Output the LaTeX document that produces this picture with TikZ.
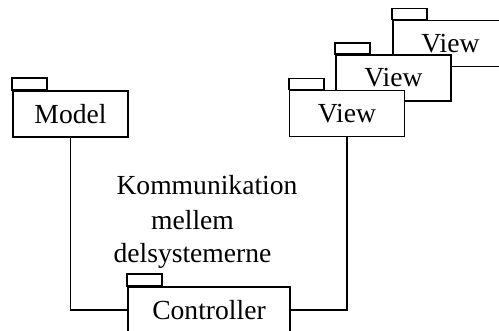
\documentclass[tikz,border=0pt]{standalone}
\usepackage{fontspec}
\setmainfont{Liberation Serif}
\begin{document}
\begin{tikzpicture}[x=1pt,y=-1pt,
  pkg/.style={draw, fill=white, line width=1.8pt, minimum width=115pt,
    minimum height=46pt, inner sep=0pt, font=\fontsize{27.6}{34}\selectfont},
  tab/.style={draw, fill=white, line width=1.8pt},
  wire/.style={draw, line width=1.8pt},
  txt/.style={anchor=base, inner sep=0pt, font=\fontsize{27.6}{34}\selectfont}]
\clip (0,0) rectangle (499,331);
\useasboundingbox (0,0) rectangle (499,331);

% stacked views, back to front
\node[pkg] (v3) at (450.5,43.5) {View};
\draw[tab] (v3.north west) rectangle ++(35,-11);
\node[pkg] (v2) at (393.5,78) {View};
\draw[tab] (v2.north west) rectangle ++(35,-11);
\node[pkg] (v1) at (347,113.5) {View};
\draw[tab] (v1.north west) rectangle ++(35,-11);

% model package
\node[pkg] (m) at (70.5,114) {Model};
\draw[tab] (m.north west) rectangle ++(35,-12);

% controller package
\node[pkg, minimum width=162pt] (c) at (209,310) {Controller};
\draw[tab] (c.north west) rectangle ++(35,-12);

% connections to the controller
\draw[wire] (m.south) |- (c.west);
\draw[wire] (v1.south) |- (c.east);

% annotation
\node[txt] (l1) at (207,195) {Kommunikation};
\node[txt] (l2) at (192.5,230) {mellem};
\node[txt] (l3) at (192.5,263) {delsystemerne};
\end{tikzpicture}
\end{document}
